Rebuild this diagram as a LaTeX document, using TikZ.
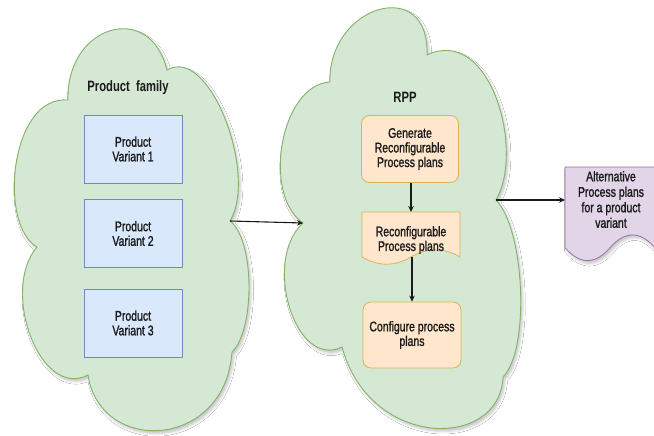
\documentclass[tikz,border=0pt]{standalone}
\usepackage{fontspec}
\setmainfont{Liberation Sans}[FakeStretch=0.75, UprightFeatures={FakeBold=1.3}]
\usetikzlibrary{arrows.meta,shadows.blur}

\definecolor{cloudfill}{HTML}{D5E8D4}
\definecolor{cloudline}{HTML}{82B366}
\definecolor{bluefill}{HTML}{DAE8FC}
\definecolor{blueline}{HTML}{6C8EBF}
\definecolor{orangefill}{HTML}{FFE6CC}
\definecolor{orangeline}{HTML}{D6B656}
\definecolor{purplefill}{HTML}{E1D5E7}
\definecolor{purpleline}{HTML}{9673A6}
\definecolor{ink}{HTML}{1A1A1A}

\tikzset{
  softshadow/.style={blur shadow={shadow xshift=2pt, shadow yshift=-3pt,
      shadow blur radius=2.5pt, shadow opacity=22}},
  cloudshape/.style={fill=cloudfill, draw=cloudline, line width=0.9pt, softshadow},
  variantbox/.style={draw=blueline, fill=bluefill, line width=0.8pt,
      minimum width=98pt, minimum height=68pt, inner sep=0pt},
  stepbox/.style={draw=orangeline, fill=orangefill, line width=0.8pt,
      rounded corners=8pt, minimum width=97pt, minimum height=67pt, inner sep=0pt},
  docorange/.style={draw=orangeline, fill=orangefill, line width=0.8pt},
  docpurple/.style={draw=purpleline, fill=purplefill, line width=0.8pt, softshadow},
  label/.style={align=center, text=ink, font=\fontsize{14pt}{14.6pt}\selectfont},
  title/.style={text=ink, font=\fontsize{15pt}{16pt}\selectfont\bfseries},
  arr/.style={draw=ink, line width=1.1pt, -{Stealth[length=6pt,width=5.5pt]}},
}

\begin{document}
\begin{tikzpicture}[x=1pt,y=-1pt]
\useasboundingbox[fill=white] (0,0) rectangle (654,436);

% Product family cloud
\path[cloudshape] (68,100) .. controls (66,25) and (150,0) .. (167,70)
  .. controls (210,45) and (258,175) .. (230,221)
  .. controls (255,240) and (255,330) .. (232,352)
  .. controls (225,450) and (100,455) .. (88,375)
  .. controls (40,400) and (0,290) .. (37,247)
  .. controls (-2,225) and (10,95) .. (68,100) -- cycle;

% RPP cloud
\path[cloudshape] (330,82) .. controls (328,5) and (430,-25) .. (427,55)
  .. controls (490,25) and (525,150) .. (496,200)
  .. controls (525,230) and (530,350) .. (503,377)
  .. controls (500,450) and (370,450) .. (342,347)
  .. controls (295,370) and (262,260) .. (303,223)
  .. controls (262,195) and (280,85) .. (330,82) -- cycle;

\coordinate (pf-out) at (230,221);
\coordinate (rpp-in) at (303,223);
\coordinate (rpp-out) at (496,200);

% Product family contents
\node[title] (pftitle) at (128,88) {Product\hspace{3pt} family};
\node[variantbox, label] (pv1) at (133,149) {Product\\Variant 1};
\node[variantbox, label] (pv2) at (133,233.5) {Product\\Variant 2};
\node[variantbox, label] (pv3) at (133,323) {Product\\Variant 3};

% RPP contents
\node[title] (rpptitle) at (405,97) {RPP};
\node[stepbox, label] (gen) at (410,149) {Generate\\Reconfigurable\\Process plans};

% document shape: reconfigurable process plans
\path[docorange] (362,212) -- (460,212) -- (460,257)
  .. controls (443.67,247.49) and (427.33,247.49) .. (411,257)
  .. controls (394.67,266.57) and (378.33,266.57) .. (362,257) -- cycle;
\node[label] (rdoc) at (411,240) {Reconfigurable\\Process plans};
\coordinate (rdoc-top) at (411,212);
\coordinate (rdoc-bot) at (412,257);

\node[stepbox, label, minimum width=98pt, minimum height=66pt] (conf) at (412,335)
  {Configure process\\plans};

% document shape: alternative process plans
\path[docpurple] (565,167) -- (655,167) -- (655,247.75)
  .. controls (640,230.65) and (625,230.65) .. (610,247.75)
  .. controls (595,264.85) and (580,264.85) .. (565,247.75) -- cycle;
\node[label, font=\fontsize{14pt}{15.5pt}\selectfont] (alt) at (611,199.5)
  {Alternative\\Process plans\\for a product\\variant};
\coordinate (alt-in) at (565,200);

% connectors
\draw[arr] (pf-out) -- (rpp-in);
\draw[arr] (gen.south -| rdoc-top) -- (rdoc-top);
\draw[arr] (rdoc-bot) -- (rdoc-bot |- conf.north);
\draw[arr] (rpp-out) -- (alt-in);
\end{tikzpicture}
\end{document}
